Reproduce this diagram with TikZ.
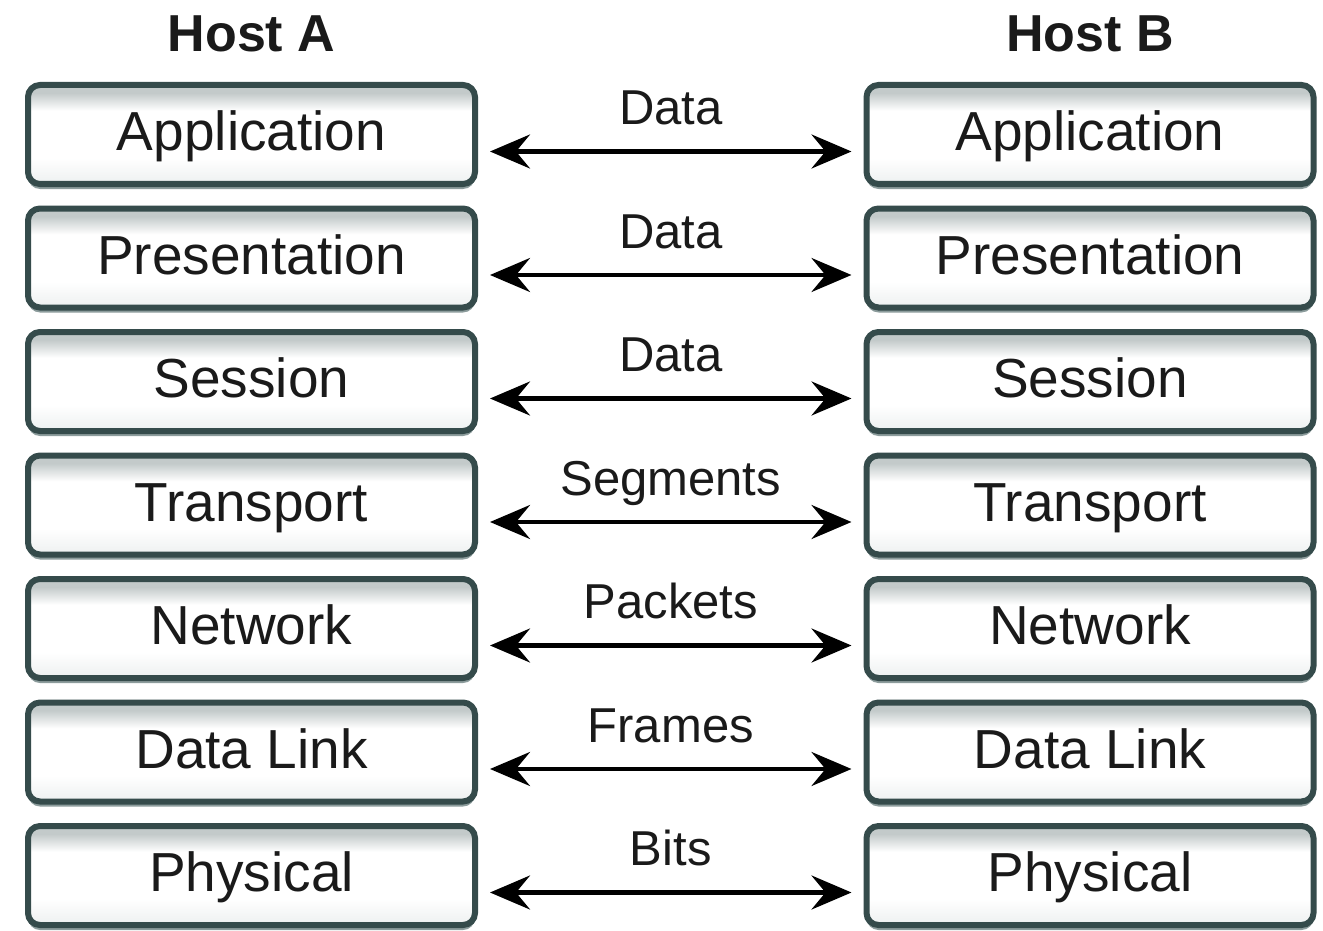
\documentclass[tikz,border=0pt]{standalone}
\usepackage{fontspec}
\setmainfont{Liberation Sans}
\usetikzlibrary{arrows.meta,shadows}
\definecolor{bordc}{HTML}{354B4B}
\definecolor{topc}{HTML}{C3CACA}
\definecolor{botc}{HTML}{EDF0F0}
\definecolor{shadc}{HTML}{8C9C9C}
\definecolor{txt}{HTML}{1A1A1A}
\pgfdeclareverticalshading{layershade}{100bp}{color(0bp)=(botc); color(25bp)=(botc); color(38bp)=(white); color(62bp)=(white); color(71bp)=(topc); color(100bp)=(topc)}
\begin{document}
\begin{tikzpicture}[x=0.5pt,y=-0.5pt,
  layerbox/.style={draw=bordc, line width=3pt, rounded corners=6pt,
    minimum width=223.5pt, minimum height=49.5pt, inner sep=0pt,
    shading=layershade,
    text height=20pt, text depth=4pt,
    font=\fontsize{27.5}{30}\selectfont, text=txt,
    drop shadow={shadow xshift=0pt, shadow yshift=-2.5pt, fill=shadc, opacity=1}},
  hostlab/.style={anchor=base, font=\fontsize{26}{28}\selectfont\bfseries, text=txt},
  conn/.style={line width=2.2pt, black,
    {Stealth[length=20pt,width=17pt,inset=7pt]}-{Stealth[length=20pt,width=17pt,inset=7pt]}},
  unitlab/.style={anchor=base, yshift=13.5pt, inner sep=0pt,
    font=\fontsize{24.5}{26}\selectfont, text=txt}]
\fill[white] (0,0) rectangle (1323,931);
\useasboundingbox (0,0) rectangle (1323,931);

\foreach \i/\name/\y in {1/Application/134.5, 2/Presentation/258, 3/Session/381.5,
  4/Transport/505, 5/Network/628.5, 6/Data Link/752, 7/Physical/875.5}{
  \node[layerbox] (L\i) at (251.5,\y) {\name};
  \node[layerbox] (R\i) at (1090,\y) {\name};
}

\node[hostlab] (HA) at ([yshift=15pt]L1.north) {Host A};
\node[hostlab] (HB) at ([yshift=15pt]R1.north) {Host B};

\foreach \i/\lab in {1/Data, 2/Data, 3/Data, 4/Segments, 5/Packets, 6/Frames, 7/Bits}{
  \draw[conn] ([shift={(12,17)}]L\i.east) -- node[unitlab] {\lab} ([shift={(-12,17)}]R\i.west);
}
\end{tikzpicture}
\end{document}
